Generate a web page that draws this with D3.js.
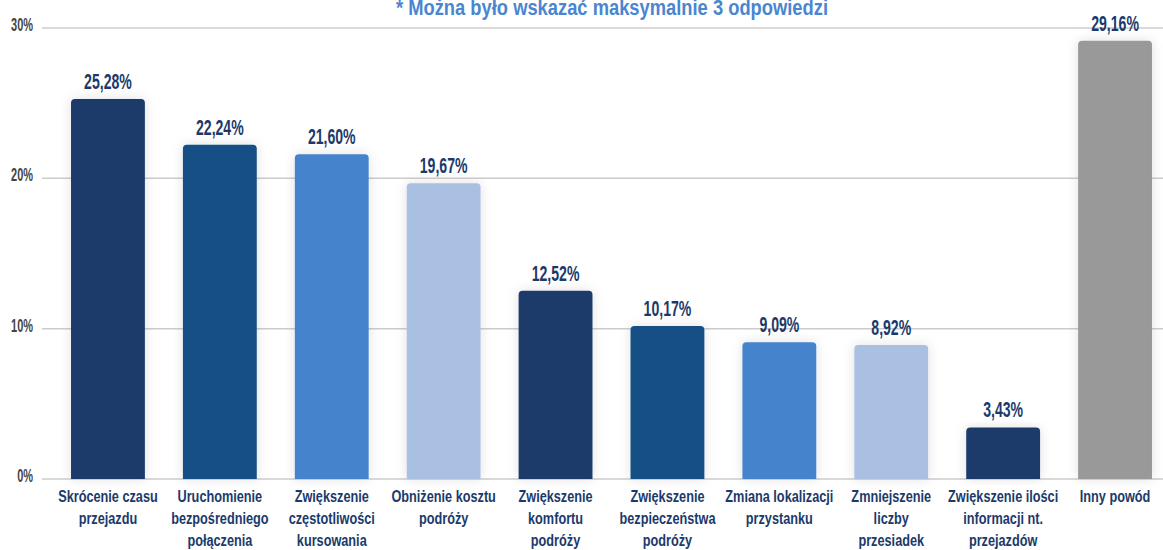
<!DOCTYPE html>
<html><head><meta charset="utf-8">
<script src="https://cdn.jsdelivr.net/npm/d3@7"></script>
<style>
html,body{margin:0;padding:0;background:#fff;}
text{font-family:"Liberation Sans","Roboto",sans-serif;font-weight:bold;}
</style></head>
<body>
<svg id="chart" width="1163" height="550"></svg>
<script>
const categories = [
  ["Skrócenie czasu","przejazdu"],
  ["Uruchomienie","bezpośredniego","połączenia"],
  ["Zwiększenie","częstotliwości","kursowania"],
  ["Obniżenie kosztu","podróży"],
  ["Zwiększenie","komfortu","podróży"],
  ["Zwiększenie","bezpieczeństwa","podróży"],
  ["Zmiana lokalizacji","przystanku"],
  ["Zmniejszenie","liczby","przesiadek"],
  ["Zwiększenie ilości","informacji nt.","przejazdów"],
  ["Inny powód"]
];
const values = [25.28, 22.24, 21.60, 19.67, 12.52, 10.17, 9.09, 8.92, 3.43, 29.16];
const colors = ["#1b3a6b","#174f86","#4583cc","#a9c0e3","#1b3a6b","#174f86","#4583cc","#a9c0e3","#1b3a6b","#999999"];
const tickValues = [0, 10, 20, 30];
const title = "* Można było wskazać maksymalnie 3 odpowiedzi";

const svg = d3.select("#chart");
const x = d3.scaleBand().domain(d3.range(values.length)).range([52, 1171]).paddingInner(0.34).paddingOuter(0.17);
const y = d3.scaleLinear().domain([0, 30]).range([479, 28]);

const defs = svg.append("defs");
const f = defs.append("filter").attr("id","sh").attr("x","-30%").attr("y","-10%").attr("width","160%").attr("height","120%");
f.append("feDropShadow").attr("dx",0).attr("dy",0).attr("stdDeviation",6).attr("flood-color","#000").attr("flood-opacity",0.12);

// gridlines
svg.append("g").selectAll("line").data(tickValues).join("line")
  .attr("x1", 42).attr("x2", 1163)
  .attr("y1", d => y(d)).attr("y2", d => y(d))
  .attr("stroke", "#cccccc").attr("stroke-width", 1.5);

// y labels
svg.append("g").selectAll("text").data(tickValues).join("text")
  .attr("transform", d => `translate(33,${y(d) + 3}) scale(0.61,1)`)
  .attr("text-anchor", "end").attr("fill", "#444").attr("font-size", 18)
  .text(d => d + "%");

// title
svg.append("text").attr("x", 612).attr("y", 15).attr("text-anchor","middle")
  .attr("fill","#4a86d0").attr("font-size",22)
  .attr("textLength", 432).attr("lengthAdjust","spacingAndGlyphs")
  .text(title);

// bars
const r = 4;
svg.append("g").selectAll("path").data(values).join("path")
  .attr("filter","url(#sh)")
  .attr("fill", (d,i) => colors[i])
  .attr("d", (d,i) => {
    const x0 = x(i), w = x.bandwidth(), y0 = y(d), y1 = y(0);
    return `M${x0},${y1}V${y0+r}Q${x0},${y0} ${x0+r},${y0}H${x0+w-r}Q${x0+w},${y0} ${x0+w},${y0+r}V${y1}Z`;
  });

// value labels
svg.append("g").selectAll("text").data(values).join("text")
  .attr("transform", (d,i) => `translate(${x(i) + x.bandwidth()/2},${y(d) - 10}) scale(0.64,1)`)
  .attr("text-anchor","middle").attr("fill","#1b3a6b").attr("font-size",22)
  .text(d => d.toFixed(2).replace(".", ",") + "%");

// category labels
const cg = svg.append("g").selectAll("text").data(categories).join("text")
  .attr("transform", (d,i) => `translate(${x(i) + x.bandwidth()/2},502) scale(0.77,1)`)
  .attr("text-anchor","middle").attr("fill","#1b3a6b").attr("font-size",16.5);
cg.selectAll("tspan").data(d => d).join("tspan")
  .attr("x", 0)
  .attr("dy", (d,j) => j === 0 ? 0 : 22)
  .text(d => d);
</script>
</body></html>
